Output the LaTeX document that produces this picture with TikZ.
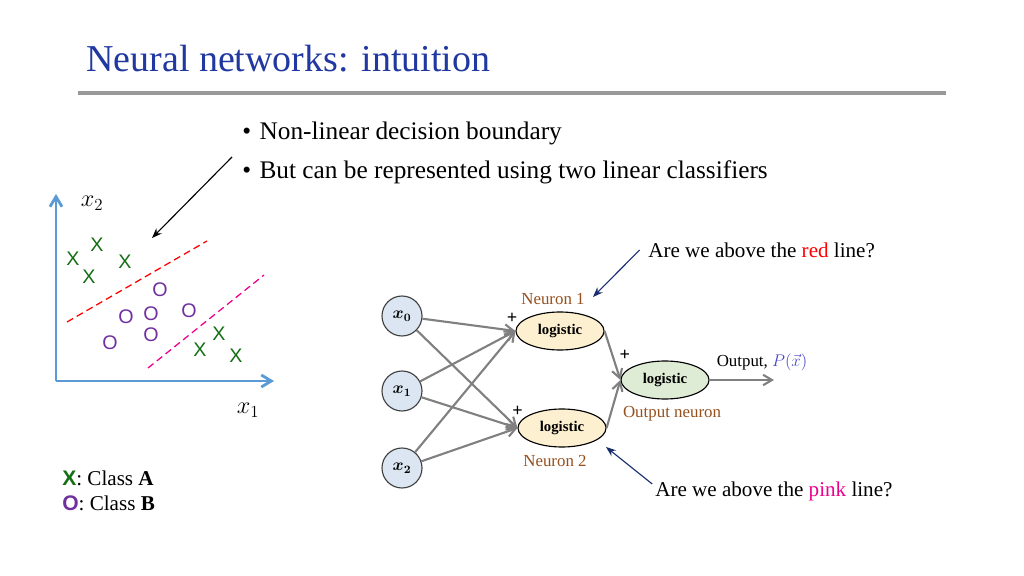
\documentclass[tikz,border=0pt]{standalone}
\usepackage{fontspec}
\setmainfont{Liberation Serif}
\setsansfont{Liberation Sans}
\usepackage{amsmath}
\usepackage{bm}
\usetikzlibrary{positioning,arrows.meta,shapes.geometric}
\definecolor{titleblue}{RGB}{32,56,160}
\definecolor{axisblue}{RGB}{91,155,213}
\definecolor{classA}{RGB}{20,110,20}
\definecolor{classB}{RGB}{112,48,160}
\definecolor{brownlbl}{RGB}{150,80,30}
\definecolor{navyarr}{RGB}{25,45,110}
\definecolor{inpfill}{RGB}{220,230,242}
\definecolor{hidfill}{RGB}{253,240,208}
\definecolor{outfill}{RGB}{223,236,213}
\definecolor{pvec}{RGB}{70,70,200}

\begin{document}
\begin{tikzpicture}[x = 0.025cm, y = -0.025cm, > = {Straight Barb[length=2.2mm, width=2.6mm]},
inp/.style={ circle, draw = black!75, fill = inpfill, minimum size = 1cm, inner sep = 0pt, line width = 0.8pt,
  font = \fontsize{12}{12}\selectfont },
neuron/.style={ ellipse, draw, line width = 0.8pt, fill = hidfill, minimum width = 2.2cm, minimum height = 0.95cm,
  font = \bfseries\fontsize{10.5}{11}\selectfont },
wire/.style={ ->, draw = black!50, line width = 1.5pt },
pointer/.style={ -{Stealth[length=2.5mm]}, draw = navyarr, line width = 0.8pt },
axis/.style={ -{Straight Barb[length=2.5mm, width=3mm]}, draw = axisblue, line width = 2pt },
ptA/.style={ text = classA, font = \sffamily\fontsize{14}{14}\selectfont, inner sep = 0pt },
ptB/.style={ text = classB, font = \sffamily\fontsize{14}{14}\selectfont, inner sep = 0pt },
brown/.style={ text = brownlbl, font = \fontsize{12}{13}\selectfont },
plus/.style={ font = \bfseries\fontsize{13}{13}\selectfont, inner sep = 0pt },
big/.style={ font = \fontsize{15}{17}\selectfont }
]
\useasboundingbox (0,0) rectangle (1024,576);

%title and rule
\node (title) [anchor = base west, text = titleblue, font = \fontsize{27}{30}\selectfont, inner sep = 0pt] at (86,72) {Neural networks: intuition};
\coordinate (rl) at (78,93);
\coordinate (rr) at (946,93);
\draw [line width = 3.5pt, black!40] (rl) -- (rr);

\node (b1) [anchor = base west, inner sep = 0pt, font = \fontsize{18}{20}\selectfont] at (242,140) {\textbullet\hspace{6pt}Non-linear decision boundary};
\node (b2) [anchor = base west, inner sep = 0pt, font = \fontsize{18}{20}\selectfont] at (242,179) {\textbullet\hspace{6pt}But can be represented using two linear classifiers};
\coordinate (bs) at (232,157);
\coordinate (bt) at (152,238);
\draw [-{Stealth[length=2.5mm]}, line width = 0.8pt] (bs) -- (bt);

%data plot
\coordinate (o) at (56,381);
\coordinate (ytop) at (56,194);
\coordinate (xend) at (274,381);
\draw [axis] (o) -- (ytop);
\draw [axis] (o) -- (xend);
\node (lx2) at (92,203) {\fontsize{18}{18}\selectfont$x_2$};
\node (lx1) at (248,410) {\fontsize{18}{18}\selectfont$x_1$};

\foreach \p [count = \i] in {(97,245), (73,259), (125,262), (89,277), (219,334), (200,350), (236,356)}
  \node (a\i) [ptA] at \p {X};
\foreach \p [count = \i] in {(160,290), (189,311), (126,317), (151,314), (151,335), (110,343)}
  \node (c\i) [ptB] at \p {O};

\coordinate (r1) at (67,322);
\coordinate (r2) at (207,241);
\coordinate (m1) at (148,368);
\coordinate (m2) at (264,275);
\draw [red, line width = 0.9pt, dash pattern = on 5pt off 3pt] (r1) -- (r2);
\draw [magenta, line width = 0.9pt, dash pattern = on 5pt off 3pt] (m1) -- (m2);

%legend
\node (legA) [anchor = base west, inner sep = 0pt, big] at (62,485) {\textcolor{classA}{\sffamily\bfseries X}: Class \textbf{A}};
\node (legB) [anchor = base west, inner sep = 0pt, big] at (62,510) {\textcolor{classB}{\sffamily\bfseries O}: Class \textbf{B}};

%network
\node (x0) [inp] at (402,316) {$\bm{x_0}$};
\node (x1) [inp] at (402,391) {$\bm{x_1}$};
\node (x2) [inp] at (402,468) {$\bm{x_2}$};

\node (n1) [neuron, label = {[brown, xshift = -5pt, yshift = 1pt] above : Neuron 1}, label = {[plus, xshift = 1.5pt, yshift = 9pt] 180 : +}] at (560,331) {logistic};
\node (n2) [neuron, label = {[brown, xshift = -5pt, yshift = -2pt] below : Neuron 2}, label = {[plus, xshift = 4pt, yshift = 12pt] 180 : +}] at (562,428) {logistic};
\node (out) [neuron, fill = outfill, label = {[brown, xshift = 5pt, yshift = -1pt] below : Output neuron}, label = {[plus, xshift = 7pt, yshift = 17.5pt] 180 : +}] at (665,380) {logistic};

\foreach \s in {x0, x1, x2}
{
  \draw [wire] (\s) -- (n1.west);
  \draw [wire] (\s) -- (n2.west);
}
\draw [wire] (n1.east) -- (out.west);
\draw [wire] (n2.east) -- (out.west);

\coordinate (oend) at (774,380);
\draw [wire] (out) -- (oend);
\node (olbl) [font = \fontsize{12}{13}\selectfont] at (762,362) {Output, \textcolor{pvec}{$P(\vec{x})$}};

%questions
\node (q1) [anchor = west, inner sep = 0pt, big] at (648,250) {Are we above the \textcolor{red}{red} line?};
\node (q2) [anchor = west, inner sep = 0pt, big] at (655,491) {Are we above the \textcolor{magenta}{pink} line?};
\coordinate (q1t) at (593,297);
\coordinate (q2t) at (606,447);
\draw [pointer] ([xshift = -6pt] q1.west) -- (q1t);
\draw [pointer] ([xshift = -2pt, yshift = 5pt] q2.west) -- (q2t);
\end{tikzpicture}
\end{document}
